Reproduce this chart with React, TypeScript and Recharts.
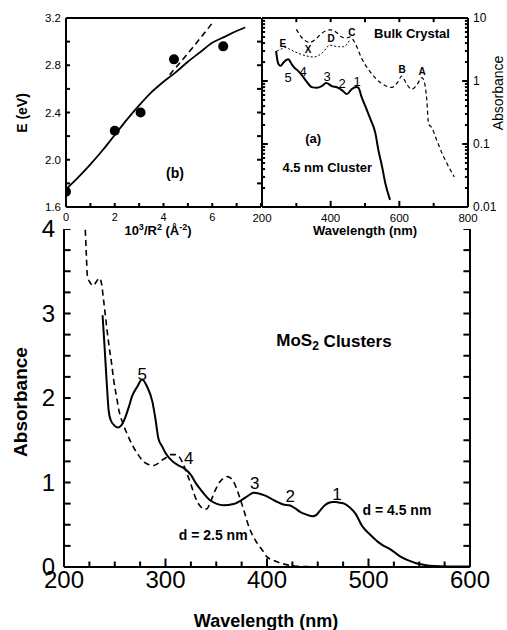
import React from 'react';
import { ComposedChart, Line, XAxis, YAxis, ReferenceDot, ReferenceLine } from 'recharts';

const FONT = '"Liberation Sans", Arial, Helvetica, sans-serif';

// ---------- Main panel: MoS2 clusters absorbance ----------
const d45Wavelength = [238,240,242,244,246,250,253,256,260,264,267,272,277,282,287,290,293,297,300,307,313,318,325,330,335,344,350,357,367,376,381,387,392,397,404,410,416,422,427,433,439,445,449,453,457,461,465,468,472,476,481,487,494,501,509,515,520,526,532,540,547,555,565,580,600];
const d45Absorbance = [2.98,2.6,2.2,1.85,1.74,1.67,1.65,1.67,1.76,1.9,2.02,2.13,2.22,2.13,1.96,1.76,1.52,1.42,1.35,1.25,1.2,1.17,1.09,0.99,0.91,0.79,0.75,0.73,0.745,0.8,0.84,0.88,0.87,0.85,0.81,0.77,0.74,0.73,0.7,0.65,0.62,0.6,0.62,0.68,0.73,0.76,0.77,0.77,0.76,0.75,0.71,0.635,0.48,0.39,0.3,0.25,0.22,0.17,0.12,0.075,0.044,0.025,0.012,0.007,0.005];

const d25Wavelength = [221,222,223,226,229,232,235,237,239,241,244,247,249,252,254,258,262,267,273,279,284,288,292,296,300,305,309,313,317,321,325,328,331,335,338,341,344,348,352,356,361,366,370,374,378,382,386,391,396,400,406,414,420,427,440,456];
const d25Absorbance = [3.99,3.7,3.45,3.36,3.33,3.38,3.42,3.35,3.16,2.95,2.65,2.4,2.21,2.0,1.86,1.7,1.58,1.45,1.33,1.24,1.21,1.2,1.22,1.26,1.29,1.33,1.33,1.31,1.23,1.11,0.98,0.87,0.78,0.71,0.685,0.69,0.76,0.88,0.98,1.04,1.07,1.03,0.93,0.79,0.64,0.48,0.37,0.27,0.19,0.12,0.08,0.044,0.025,0.012,0.004,0.0];

const mainXTicks = [200,225,250,275,300,325,350,375,400,425,450,475,500,525,550,575,600];
const mainYTicks = [0,0.25,0.5,0.75,1,1.25,1.5,1.75,2,2.25,2.5,2.75,3,3.25,3.5,3.75,4];

// ---------- Panel (b): E vs 10^3/R^2 ----------
const fitX = [0,0.5,1,1.5,2,2.5,3,3.5,4,4.5,5,5.5,6,6.5,7,7.35];
const fitE = [1.75,1.85,1.96,2.08,2.21,2.34,2.46,2.57,2.66,2.74,2.83,2.91,2.99,3.04,3.09,3.12];
const dashX = [4.25,5.2,6.05];
const dashE = [2.72,2.95,3.17];
const pointX = [0,2,3.06,4.43,6.45];
const pointE = [1.73,2.245,2.4,2.85,2.96];
const bXTicks = [0,1,2,3,4,5,6,7,8];
const bYTicks = [1.6,1.8,2.0,2.2,2.4,2.6,2.8,3.0,3.2];

// ---------- Panel (a): log absorbance ----------
const clusterWl = [241,245,250,255,262,270,277,284,291,302,316,330,345,360,374,387,403,422,435,447,461,475,481,490,505,517,530,539,550,559,573];
const clusterAbs = [3.0,2.1,1.8,1.75,1.95,2.15,2.22,1.95,1.7,1.5,1.24,0.98,0.8,0.78,0.83,0.93,0.83,0.78,0.7,0.62,0.74,0.8,0.78,0.56,0.35,0.24,0.15,0.08,0.043,0.024,0.013];

const bulkWl = [300,310,322,340,356,375,398,415,432,445,457,471,490,515,549,578,595,607,620,636,650,666,672,680,685,695,709,724,738,760];
const bulkAbs = [6.6,5.4,4.5,4.1,4.6,5.8,6.5,6.0,5.0,4.8,5.0,4.0,2.3,1.4,0.91,0.79,0.95,1.2,0.92,0.74,0.85,1.13,1.0,0.5,0.21,0.18,0.115,0.072,0.05,0.03];

const edgeWl = [244,255,267,285,306,330,350,374,398,422,437,457];
const edgeAbs = [3.0,3.2,3.4,3.1,2.75,2.5,2.4,2.75,3.7,3.5,3.5,4.6];

const aXTicks = [200,300,400,500,600,700,800];
const aYTicks = [0.01,0.02,0.03,0.04,0.05,0.06,0.07,0.08,0.09,0.1,0.2,0.3,0.4,0.5,0.6,0.7,0.8,0.9,1,2,3,4,5,6,7,8,9,10];
const aYLabels = [0.01,0.1,1,10];

const zip = (xs: number[], ys: number[]) => xs.map((x, i) => ({ x, y: ys[i] }));

const d45Data = zip(d45Wavelength, d45Absorbance);
const d25Data = zip(d25Wavelength, d25Absorbance);
const fitData = zip(fitX, fitE);
const dashData = zip(dashX, dashE);
const pointData = zip(pointX, pointE);
const clusterData = zip(clusterWl, clusterAbs);
const bulkData = zip(bulkWl, bulkAbs);
const edgeData = zip(edgeWl, edgeAbs);

const axisLine = { stroke: '#000', strokeWidth: 2 };

type Side = 'left' | 'right' | 'bottom' | 'top';

// Axis tick renderer: inward tick mark (rect) + optional label outside
const mkTick = (side: Side, margin: number, fontSize: number, fmt: (v: number) => string, len: (v: number) => number) => (p: any) => {
  const v = Number(p.payload?.value);
  const label = fmt(v);
  const L = len(v);
  const px = Number(p.x);
  const py = Number(p.y);
  const common = { fill: '#000', fontSize, fontFamily: FONT } as any;
  let r: any = null;
  let text: any = null;
  if (side === 'left') {
    r = L > 0 ? <rect x={px + margin} y={py - 1} width={L} height={2} fill="#000" /> : null;
    if (label) text = <text x={px} y={py} dy="0.35em" textAnchor="end" {...common}>{label}</text>;
  } else if (side === 'right') {
    r = L > 0 ? <rect x={px - margin - L} y={py - 1} width={L} height={2} fill="#000" /> : null;
    if (label) text = <text x={px} y={py} dy="0.35em" textAnchor="start" {...common}>{label}</text>;
  } else if (side === 'bottom') {
    r = L > 0 ? <rect x={px - 1} y={py - margin - L} width={2} height={L} fill="#000" /> : null;
    if (label) text = <text x={px} y={py} dy="0.72em" textAnchor="middle" {...common}>{label}</text>;
  } else {
    r = L > 0 ? <rect x={px - 1} y={py + margin} width={2} height={L} fill="#000" /> : null;
  }
  return (
    <g>
      {r}
      {text}
    </g>
  );
};

// Inward tick as a reference segment (panel a)
const TickSeg = ({ x1, y1, x2, y2 }: any) => (
  <ReferenceLine segment={[{ x: x1, y: y1 }, { x: x2, y: y2 }]} stroke="#000" strokeWidth={2} ifOverflow="visible" />
);

const lbl = (value: string, fontSize: number, bold = false) => ({
  value,
  position: 'center' as const,
  fill: '#000',
  fontSize,
  fontWeight: bold ? 'bold' : 'normal',
  fontFamily: FONT,
});

const Note = ({ x, y, value, size, bold = false }: any) => (
  <ReferenceDot x={x} y={y} r={0} fill="none" stroke="none" label={lbl(value, size, bold)} />
);

const MosLabel = (props: any) => {
  const vb = props.viewBox || {};
  const cx = (vb.x || 0) + (vb.width || 0) / 2;
  const cy = (vb.y || 0) + (vb.height || 0) / 2;
  return (
    <text x={cx} y={cy} textAnchor="middle" dominantBaseline="central" fontFamily={FONT} fontWeight="bold" fontSize={17} fill="#000">
      MoS<tspan dy={5} fontSize={12}>2</tspan><tspan dy={-5}> Clusters</tspan>
    </text>
  );
};

const Title = ({ x, y, size, bold = true, rotate = false, children }: any) => (
  <div
    style={{
      position: 'absolute',
      left: x,
      top: y,
      transform: `translate(-50%, -50%)${rotate ? ' rotate(-90deg)' : ''}`,
      whiteSpace: 'nowrap',
      fontFamily: FONT,
      fontSize: size,
      fontWeight: bold ? 'bold' : 'normal',
      lineHeight: 1,
      color: '#000',
    }}
  >
    {children}
  </div>
);

const isDecade = (v: number) => aYLabels.some((d) => Math.abs(d - v) < 1e-9);
const none = () => '';

// main-panel tick marks as two-point series
const mainBottomTicks = mainXTicks.map((v) => [{ x: v, y: 0 }, { x: v, y: v % 100 === 0 ? 0.1 : 0.065 }]);
const mainLeftTicks = mainYTicks.map((v) => [{ x: 200, y: v }, { x: 206.5, y: v }]);
const mainRightTicks = mainYTicks.map((v) => [{ x: 600, y: v }, { x: 593.5, y: v }]);

export default function App() {
  return (
    <div style={{ position: 'absolute', left: 0, top: 0, width: 507, height: 630, background: '#fff', overflow: 'hidden' }}>
      {/* Panel (b) */}
      <div style={{ position: 'absolute', left: 0, top: 0 }}>
        <ComposedChart width={262} height={230} margin={{ top: 0, right: 0, left: 0, bottom: 0 }}>
          <XAxis dataKey="x" type="number" domain={[0, 8]} ticks={bXTicks} interval={0} allowDataOverflow height={23}
            tickSize={0} tickMargin={6} axisLine={axisLine} tickLine={false}
            tick={mkTick('bottom', 6, 11, (v) => (v % 2 === 0 && v < 8 ? String(v) : ''), () => 4)} />
          <XAxis xAxisId="t" orientation="top" type="number" domain={[0, 8]} ticks={bXTicks} interval={0} allowDataOverflow height={18}
            tickSize={0} tickMargin={4} axisLine={axisLine} tickLine={false}
            tick={mkTick('top', 4, 11, none, () => 4)} />
          <YAxis type="number" domain={[1.6, 3.2]} ticks={bYTicks} interval={0} allowDataOverflow width={66}
            tickSize={0} tickMargin={5} axisLine={axisLine} tickLine={false}
            tick={mkTick('left', 5, 11.5, (v) => (Math.round(v * 10) % 4 === 0 ? v.toFixed(1) : ''), () => 4)} />
          <YAxis yAxisId="r" orientation="right" type="number" domain={[1.6, 3.2]} ticks={bYTicks} interval={0} allowDataOverflow width={1}
            tickSize={0} tickMargin={4} axisLine={false} tickLine={false}
            tick={mkTick('right', 4, 11, none, () => 4)} />
          <Line data={fitData} dataKey="y" type="monotone" stroke="#000" strokeWidth={1.8} dot={false} isAnimationActive={false} />
          <Line data={dashData} dataKey="y" type="monotone" stroke="#000" strokeWidth={1.6} strokeDasharray="6 4" dot={false} isAnimationActive={false} />
          <Line data={pointData} dataKey="y" stroke="none" dot={{ r: 5, fill: '#000', stroke: 'none' }} isAnimationActive={false} />
          <Note x={4.47} y={1.89} value="(b)" size={14} bold />
        </ComposedChart>
      </div>

      {/* Panel (a) */}
      <div style={{ position: 'absolute', left: 240, top: 0 }}>
        <ComposedChart width={267} height={230} margin={{ top: 18, right: 0, left: 22, bottom: 0 }}>
          <XAxis dataKey="x" type="number" domain={[200, 800]} ticks={aXTicks} interval={0} allowDataOverflow height={23}
            tickSize={0} tickMargin={7} axisLine={axisLine} tickLine={false}
            tick={mkTick('bottom', 7, 11.5, (v) => (v % 200 === 0 ? String(v) : ''), () => 0)} />
          <YAxis orientation="right" type="number" scale="log" domain={[0.01, 10]} ticks={aYTicks} interval={0} allowDataOverflow width={39}
            tickSize={0} tickMargin={5} axisLine={axisLine} tickLine={false}
            tick={mkTick('right', 5, 12, (v) => (isDecade(v) ? String(v) : ''), () => 0)} />
          <ReferenceLine y={10} stroke="#000" strokeWidth={2} />
          <ReferenceLine x={200} stroke="#000" strokeWidth={2} />
          {aXTicks.map((v) => <TickSeg key={`ab${v}`} x1={v} y1={0.01} x2={v} y2={v % 200 === 0 ? 0.0125 : 0.0116} />)}
          {aXTicks.map((v) => <TickSeg key={`at${v}`} x1={v} y1={10} x2={v} y2={8.6} />)}
          {aYTicks.map((v) => <TickSeg key={`al${v}`} x1={200} y1={v} x2={isDecade(v) ? 217 : 209} y2={v} />)}
          {aYTicks.map((v) => <TickSeg key={`ar${v}`} x1={800} y1={v} x2={isDecade(v) ? 783 : 791} y2={v} />)}
          <Line data={bulkData} dataKey="y" type="monotone" stroke="#000" strokeWidth={1.2} strokeDasharray="4 3" dot={false} isAnimationActive={false} />
          <Line data={edgeData} dataKey="y" type="monotone" stroke="#000" strokeWidth={1} strokeDasharray="2 2" dot={false} isAnimationActive={false} />
          <Line data={clusterData} dataKey="y" type="monotone" stroke="#000" strokeWidth={2} dot={false} isAnimationActive={false} />
          <Note x={261} y={4.0} value="E" size={10} bold />
          <Note x={334} y={3.2} value="X" size={10} bold />
          <Note x={401} y={4.8} value="D" size={10} bold />
          <Note x={462} y={6.0} value="C" size={10} bold />
          <Note x={608} y={1.5} value="B" size={10} bold />
          <Note x={666} y={1.44} value="A" size={10} bold />
          <Note x={276} y={1.16} value="5" size={13} />
          <Note x={320} y={1.44} value="4" size={13} />
          <Note x={390} y={1.2} value="3" size={13} />
          <Note x={433} y={0.93} value="2" size={13} />
          <Note x={477} y={1.0} value="1" size={13} />
          <Note x={349} y={0.124} value="(a)" size={13} bold />
          <Note x={390} y={0.043} value="4.5 nm Cluster" size={13} bold />
          <Note x={637} y={5.8} value="Bulk Crystal" size={13} bold />
        </ComposedChart>
      </div>

      {/* Main panel */}
      <div style={{ position: 'absolute', left: 0, top: 200 }}>
        <ComposedChart width={507} height={400} margin={{ top: 29, right: 37, left: 0, bottom: 0 }}>
          <XAxis dataKey="x" type="number" domain={[200, 600]} ticks={mainXTicks} interval={0} allowDataOverflow height={33}
            tickSize={0} tickMargin={4} axisLine={axisLine} tickLine={false}
            tick={mkTick('bottom', 4, 24, (v) => (v % 100 === 0 ? String(v) : ''), () => 0)} />
          <YAxis type="number" domain={[0, 4]} ticks={mainYTicks} interval={0} allowDataOverflow width={64}
            tickSize={0} tickMargin={9} axisLine={axisLine} tickLine={false}
            tick={mkTick('left', 9, 24, (v) => (Number.isInteger(v) ? String(v) : ''), () => 0)} />
          <ReferenceLine x={600} stroke="#000" strokeWidth={2} />
          {mainBottomTicks.map((d, i) => <Line key={`mb${i}`} data={d} dataKey="y" stroke="#000" strokeWidth={2} dot={false} isAnimationActive={false} />)}
          {mainLeftTicks.map((d, i) => <Line key={`ml${i}`} data={d} dataKey="y" stroke="#000" strokeWidth={2} dot={false} isAnimationActive={false} />)}
          {mainRightTicks.map((d, i) => <Line key={`mr${i}`} data={d} dataKey="y" stroke="#000" strokeWidth={2} dot={false} isAnimationActive={false} />)}
          <Line data={d25Data} dataKey="y" type="monotone" stroke="#000" strokeWidth={1.6} strokeDasharray="6 4" dot={false} isAnimationActive={false} />
          <Line data={d45Data} dataKey="y" type="monotone" stroke="#000" strokeWidth={2} dot={false} isAnimationActive={false} />
          <Note x={277} y={2.29} value="5" size={17} />
          <Note x={323} y={1.29} value="4" size={17} />
          <Note x={388} y={1.0} value="3" size={17} />
          <Note x={423} y={0.84} value="2" size={17} />
          <Note x={469} y={0.86} value="1" size={17} />
          <Note x={528} y={0.67} value="d = 4.5 nm" size={14} bold />
          <Note x={347} y={0.38} value="d = 2.5 nm" size={14} bold />
          <ReferenceDot x={466} y={2.68} r={0} fill="none" stroke="none" label={<MosLabel />} />
        </ComposedChart>
      </div>

      {/* Axis titles */}
      <Title x={22} y={113} size={14} rotate>E (eV)</Title>
      <Title x={158} y={230} size={13}>
        10<sup style={{ fontSize: 9 }}>3</sup>/R<sup style={{ fontSize: 9 }}>2</sup> (Å<sup style={{ fontSize: 9 }}>-2</sup>)
      </Title>
      <Title x={365} y={230} size={13}>Wavelength (nm)</Title>
      <Title x={498} y={93} size={14} bold={false} rotate>Absorbance</Title>
      <Title x={20} y={402} size={19} rotate>Absorbance</Title>
      <Title x={266} y={621} size={18}>Wavelength (nm)</Title>
    </div>
  );
}
